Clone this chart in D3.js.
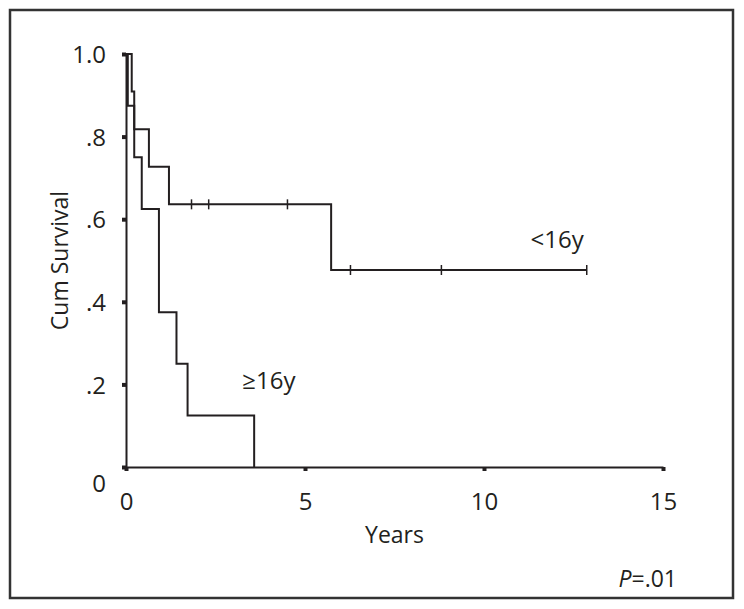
<!DOCTYPE html>
<html>
<head>
<meta charset="utf-8">
<script src="https://cdn.jsdelivr.net/npm/d3@7"></script>
<style>
    body { margin: 0; background: #fff; }
    text { font-family: "Open Sans", "Noto Sans", sans-serif; fill: #231f20; }
</style>
</head>
<body>
<div id="km"></div>
<script>
// <16y group: step times (years) and survival after each step
var youngTimes = [0, 0.16, 0.23, 0.64, 1.20, 5.73];
var youngSurv = [1, 0.909, 0.818, 0.727, 0.636, 0.477];
var youngEnd = 12.87;
var youngCensor = [1.83, 2.31, 4.51, 6.27, 8.81, 12.87];

// >=16y group
var oldTimes = [0, 0.05, 0.23, 0.44, 0.92, 1.41, 1.72, 3.58];
var oldSurv = [1, 0.875, 0.75, 0.625, 0.375, 0.25, 0.125, 0];

var xTicks = [0, 5, 10, 15];
var yTicks = [0, 0.2, 0.4, 0.6, 0.8, 1.0];

var W = 744, H = 609;
var margin = { top: 54, right: 81, bottom: 142, left: 126 },
    width = W - margin.left - margin.right,
    height = H - margin.top - margin.bottom;

var x = d3.scaleLinear().domain([0, 15]).range([0, width]);
var y = d3.scaleLinear().domain([0, 1]).range([height, 0]);

var root = d3.select("#km").append("svg")
    .attr("width", W)
    .attr("height", H);

// outer frame
root.append("rect")
    .attr("x", 10).attr("y", 10)
    .attr("width", 723).attr("height", 588)
    .attr("fill", "none")
    .attr("stroke", "#333")
    .attr("stroke-width", 2.5);

var svg = root.append("g")
    .attr("transform", "translate(" + margin.left + "," + margin.top + ")");

function stepData(times, surv, end) {
    var pts = [];
    times.forEach(function(t, i) {
        pts.push([t, surv[i]]);
    });
    if (end != null) pts.push([end, surv[surv.length - 1]]);
    return pts;
}

var line = d3.line()
    .curve(d3.curveStepAfter)
    .x(function(d) { return x(d[0]); })
    .y(function(d) { return y(d[1]); });

svg.append("path")
    .datum(stepData(oldTimes, oldSurv, null))
    .attr("fill", "none")
    .attr("stroke", "#231f20")
    .attr("stroke-width", 2)
    .attr("d", line);

svg.append("path")
    .datum(stepData(youngTimes, youngSurv, youngEnd))
    .attr("fill", "none")
    .attr("stroke", "#231f20")
    .attr("stroke-width", 2)
    .attr("d", line);

// censor marks
function survAt(t) {
    var s = 1;
    youngTimes.forEach(function(tt, i) { if (tt <= t) s = youngSurv[i]; });
    return s;
}
svg.selectAll(".censor")
    .data(youngCensor)
    .enter().append("line")
    .attr("class", "censor")
    .attr("x1", function(d) { return x(d); })
    .attr("x2", function(d) { return x(d); })
    .attr("y1", function(d) { return y(survAt(d)) - 5; })
    .attr("y2", function(d) { return y(survAt(d)) + 5; })
    .attr("stroke", "#231f20")
    .attr("stroke-width", 1.5);

// Add the X Axis
var xAxis = svg.append("g")
    .attr("transform", "translate(0," + height + ")")
    .call(d3.axisBottom(x).tickValues(xTicks).tickSize(4).tickSizeOuter(0).tickPadding(22));
xAxis.select(".domain").attr("stroke", "#231f20").attr("stroke-width", 2);
xAxis.selectAll(".tick line").attr("stroke", "#231f20").attr("stroke-width", 4);
xAxis.selectAll(".tick text").style("font-size", "24px").attr("fill", "#231f20");

// Add the Y Axis
var yFormat = function(d) {
    if (d === 0) return "0";
    if (d === 1) return "1.0";
    return d3.format(".1f")(d).replace(/^0/, "");
};
var yAxis = svg.append("g")
    .call(d3.axisLeft(y).tickValues(yTicks).tickFormat(yFormat).tickSize(4).tickSizeOuter(0).tickPadding(16));
yAxis.select(".domain").attr("stroke", "#231f20").attr("stroke-width", 2);
yAxis.selectAll(".tick line").attr("stroke", "#231f20").attr("stroke-width", 4);
yAxis.selectAll(".tick text").style("font-size", "24px").attr("fill", "#231f20")
    .attr("dy", function(d) { return d === 0 ? "1.0em" : "0.36em"; });

svg.append("text")
    .attr("transform", "rotate(-90)")
    .attr("x", -height / 2)
    .attr("y", -58)
    .attr("text-anchor", "middle")
    .style("font-size", "23px")
    .text("Cum Survival");

svg.append("text")
    .attr("x", width / 2)
    .attr("y", height + 76)
    .attr("text-anchor", "middle")
    .style("font-size", "23px")
    .text("Years");

var p = svg.append("text")
    .attr("x", width + 14)
    .attr("y", height + 120)
    .attr("text-anchor", "end")
    .style("font-size", "23px");
p.append("tspan").style("font-style", "italic").text("P");
p.append("tspan").text("=.01");

svg.append("text")
    .attr("x", x(11.3))
    .attr("y", y(0.53))
    .style("font-size", "24px")
    .text("<16y");

svg.append("text")
    .attr("x", x(3.25))
    .attr("y", y(0.19))
    .style("font-size", "24px")
    .text("\u226516y");
</script>
</body>
</html>
